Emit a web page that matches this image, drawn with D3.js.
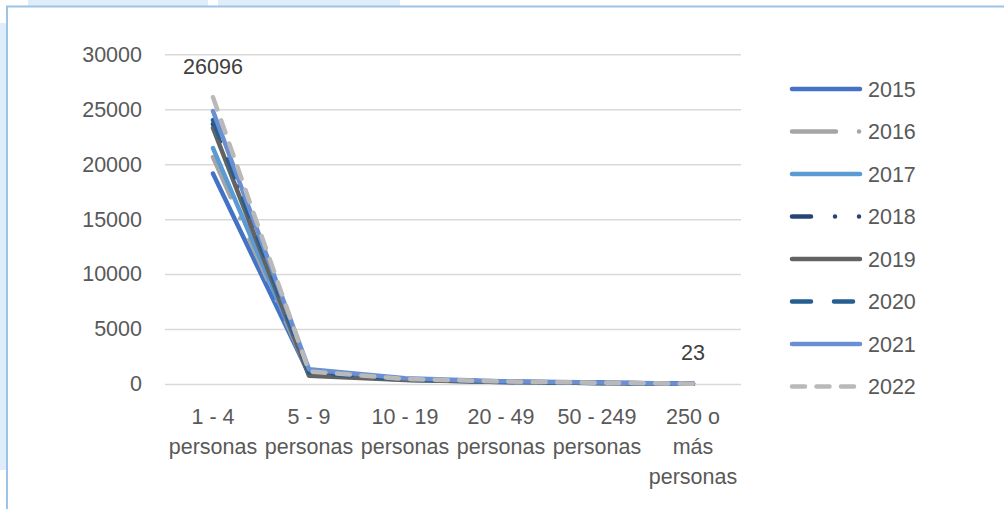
<!DOCTYPE html>
<html>
<head>
<meta charset="utf-8">
<script src="https://cdn.jsdelivr.net/npm/d3@7"></script>
<style>
  body { margin: 0; background: #fff; }
  svg { display: block; font-family: "Liberation Sans", Arial, sans-serif; }
</style>
</head>
<body>
<svg id="chart"></svg>
<script>
// categories (each entry = label lines)
const categories = [
  ["1 - 4", "personas"],
  ["5 - 9", "personas"],
  ["10 - 19", "personas"],
  ["20 - 49", "personas"],
  ["50 - 249", "personas"],
  ["250 o", "más", "personas"]
];
const years = ["2015", "2016", "2017", "2018", "2019", "2020", "2021", "2022"];
const yTicks = [0, 5000, 10000, 15000, 20000, 25000, 30000];

// series values
const v2015 = [19140, 900, 380, 190, 100, 20];
const v2016 = [20650, 950, 400, 200, 105, 21];
const v2017 = [21470, 1000, 420, 210, 110, 22];
const v2018 = [23660, 850, 390, 195, 100, 20];
const v2019 = [23290, 750, 370, 190, 98, 20];
const v2020 = [24020, 1050, 430, 215, 112, 22];
const v2021 = [24840, 1350, 520, 260, 130, 26];
const v2022 = [26096, 1150, 460, 230, 118, 23];

const colors = ["#4472c4", "#a5a5a5", "#5b9bd5", "#264478", "#636363", "#255e91", "#6a8fd2", "#b9b9b9"];
const dashes = [null, "44 23 0 23", null, "19 24 0 24 0 24", null, "19 23", null, "13 11.5"];

const series = years.map((yr, i) => ({
  year: yr,
  values: [v2015, v2016, v2017, v2018, v2019, v2020, v2021, v2022][i],
  color: colors[i],
  dash: dashes[i]
}));

const W = 1004, H = 509;
const fs = 21.5;
const svg = d3.select("#chart").attr("width", W).attr("height", H);

// page background blocks + chart box
const bg = "#deedf9";
svg.append("rect").attr("x", 28).attr("y", 0).attr("width", 180).attr("height", 7).attr("fill", bg);
svg.append("rect").attr("x", 218).attr("y", 0).attr("width", 182).attr("height", 7).attr("fill", bg);
svg.append("rect").attr("x", 0).attr("y", 23).attr("width", 7).attr("height", 447).attr("fill", bg);
svg.append("path").attr("d", `M7,${H} L7,6.5 L${W},6.5`)
  .attr("fill", "none").attr("stroke", "#9dc3e6").attr("stroke-width", 2);

const pLeft = 165, pRight = 741, pTop = 54.3, pBottom = 384;

const x = d3.scaleBand().domain(d3.range(categories.length)).range([pLeft, pRight]);
const y = d3.scaleLinear().domain([0, 30000]).range([pBottom, pTop]);
const cx = i => x(i) + x.bandwidth() / 2;

// gridlines + y labels
const yAxis = svg.append("g")
  .attr("transform", `translate(${pLeft},0)`)
  .call(d3.axisLeft(y).tickValues(yTicks).tickFormat(d3.format("d"))
    .tickSize(-(pRight - pLeft)).tickPadding(23));
yAxis.select(".domain").remove();
yAxis.selectAll("line").attr("stroke", "#d9d9d9").attr("stroke-width", 1.5);
yAxis.selectAll("text").attr("fill", "#595959").attr("font-size", fs)
  .attr("font-family", "Liberation Sans, Arial, sans-serif");

// x labels
const xAxis = svg.append("g")
  .attr("transform", `translate(0,${pBottom})`)
  .call(d3.axisBottom(x).tickSize(0).tickFormat(""));
xAxis.select(".domain").remove();
xAxis.selectAll(".tick text").remove();
xAxis.selectAll(".tick").each(function (d) {
  const t = d3.select(this).append("text")
    .attr("fill", "#595959").attr("font-size", fs)
    .attr("font-family", "Liberation Sans, Arial, sans-serif")
    .attr("text-anchor", "middle");
  categories[d].forEach((ln, k) => {
    t.append("tspan").attr("x", 0).attr("y", 40 + k * 30).text(ln);
  });
});

// lines
const line = d3.line().x((d, i) => cx(i)).y(d => y(d));
svg.append("g").selectAll("path").data(series).join("path")
  .attr("d", d => line(d.values))
  .attr("fill", "none")
  .attr("stroke", d => d.color)
  .attr("stroke-width", 4.5)
  .attr("stroke-linecap", "round")
  .attr("stroke-linejoin", "round")
  .attr("stroke-dasharray", d => d.dash);

// data labels for 2022 (first and last)
const last = series[series.length - 1];
[0, categories.length - 1].forEach(i => {
  svg.append("text")
    .attr("x", cx(i))
    .attr("y", y(last.values[i]) - 31)
    .attr("dy", "0.35em")
    .attr("text-anchor", "middle")
    .attr("fill", "#404040").attr("font-size", fs)
    .text(last.values[i]);
});

// legend
const legend = svg.append("g").selectAll("g").data(series).join("g")
  .attr("transform", (d, i) => `translate(0,${89 + i * 42.5})`);
legend.append("line")
  .attr("x1", 792).attr("x2", 860).attr("y1", 0).attr("y2", 0)
  .attr("stroke", d => d.color).attr("stroke-width", 4.5)
  .attr("stroke-linecap", "round")
  .attr("stroke-dasharray", d => d.dash);
legend.append("text")
  .attr("x", 868).attr("y", 0).attr("dy", "0.35em")
  .attr("fill", "#595959").attr("font-size", fs)
  .text(d => d.year);
</script>
</body>
</html>
